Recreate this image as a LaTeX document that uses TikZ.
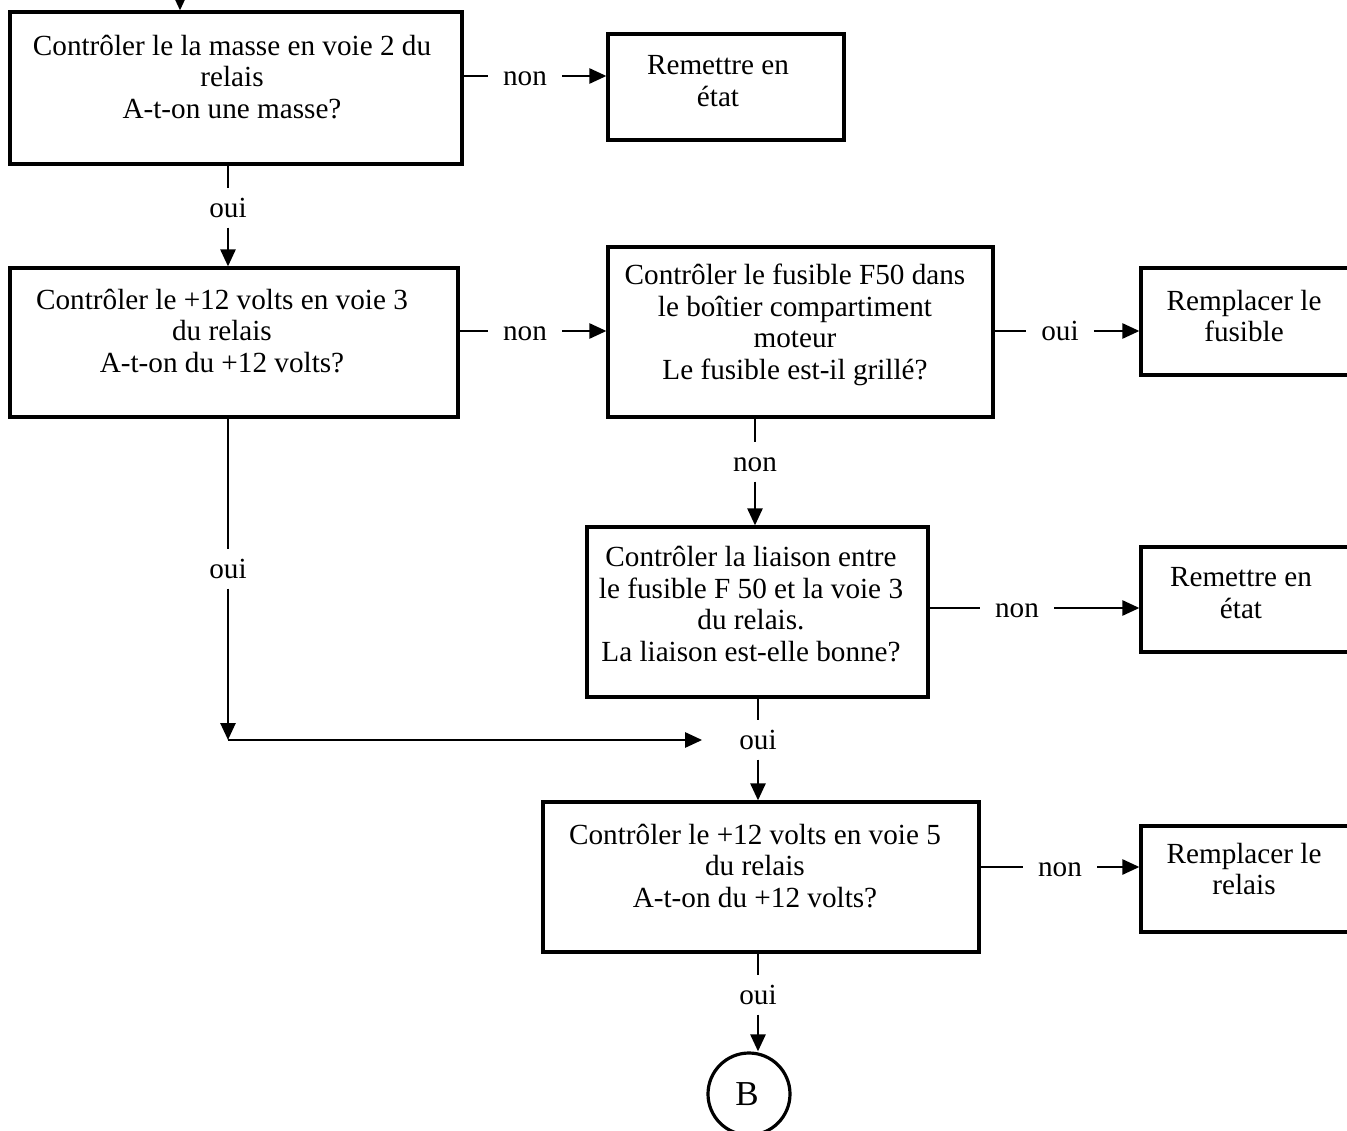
\documentclass[tikz,border=0pt]{standalone}
\usepackage{fontspec}
\setmainfont{Liberation Serif}
\usetikzlibrary{arrows.meta,calc}
\begin{document}
\begin{tikzpicture}[x=1pt,y=-1pt,
  every node/.style={font=\fontsize{29.2}{31.5}\selectfont},
  box/.style={draw,line width=3.2pt,rectangle,inner sep=0pt},
  txt/.style={align=center,inner sep=0pt},
  lbl/.style={inner xsep=15pt,inner ysep=5pt,text height=24pt,text depth=5pt},
  con/.style={line width=2.6pt},
  arr/.style={line width=2.6pt,-{Triangle[length=17pt,width=15pt]}}]
\useasboundingbox (0,0) rectangle (1347,1131);
\clip (0,0) rectangle (1347,1131);
% boxes
\node[box,minimum width=452pt,minimum height=152pt] (b1) at (236,88) {};
\node[box,minimum width=236pt,minimum height=106pt] (r1) at (726,87) {};
\node[box,minimum width=448pt,minimum height=149pt] (b2) at (234,342.5) {};
\node[box,minimum width=385pt,minimum height=170pt] (b3) at (800.5,332) {};
\node[box,minimum width=208pt,minimum height=107pt] (r2) at (1245,321.5) {};
\node[box,minimum width=341pt,minimum height=170pt] (b4) at (757.5,612) {};
\node[box,minimum width=208pt,minimum height=105pt] (r3) at (1245,599.5) {};
\node[box,minimum width=436pt,minimum height=150pt] (b5) at (761,877) {};
\node[box,minimum width=208pt,minimum height=106pt] (r4) at (1245,879) {};
\node[draw,line width=3.2pt,circle,minimum size=82pt,inner sep=0pt] (B) at (749,1094) {};
% texts
\node[txt] (t1) at (232,77) {Contrôler le la masse en voie 2 du\\relais\\A-t-on une masse?};
\node[txt] (tr1) at (718,81) {Remettre en\\état};
\node[txt] (t2) at (222,331) {Contrôler le +12 volts en voie 3\\du relais\\A-t-on du +12 volts?};
\node[txt] (t3) at (795,325) {Contrôler le fusible F50 dans\\le boîtier compartiment\\moteur\\Le fusible est-il grillé?};
\node[txt] (tr2) at (1244,316) {Remplacer le\\fusible};
\node[txt] (t4) at (751,604) {Contrôler la liaison entre\\le fusible F 50 et la voie 3\\du relais.\\La liaison est-elle bonne?};
\node[txt] (tr3) at (1241,593) {Remettre en\\état};
\node[txt] (t5) at (755,866) {Contrôler le +12 volts en voie 5\\du relais\\A-t-on du +12 volts?};
\node[txt] (tr4) at (1244,869) {Remplacer le\\relais};
\node[txt,font=\fontsize{35}{40}\selectfont] (tB) at (747,1094) {B};
% labels
\node[lbl] (n1) at (525,76) {non};
\node[lbl] (n2) at (525,331) {non};
\node[lbl] (o3) at (1060,331) {oui};
\node[lbl] (n4) at (1017,608) {non};
\node[lbl] (n5) at (1060,867) {non};
\node[lbl] (o1) at (228,208) {oui};
\node[lbl] (o2) at (228,569) {oui};
\node[lbl] (n3) at (755,462) {non};
\node[lbl] (o4) at (758,740) {oui};
\node[lbl] (o5) at (758,995) {oui};
\coordinate (top) at (180,-10);
\coordinate (J) at (228,740);
% connectors
\draw[arr] (top) -- (b1.north -| top);
\draw[con] (b1.east |- n1) -- (n1.west);
\draw[arr] (n1.east) -- (r1.west |- n1);
\draw[con] (b1.south -| o1) -- (o1.north);
\draw[arr] (o1.south) -- (b2.north -| o1);
\draw[con] (b2.east |- n2) -- (n2.west);
\draw[arr] (n2.east) -- (b3.west |- n2);
\draw[con] (b3.east |- o3) -- (o3.west);
\draw[arr] (o3.east) -- (r2.west |- o3);
\draw[con] (b3.south -| n3) -- (n3.north);
\draw[arr] (n3.south) -- (b4.north -| n3);
\draw[con] (b4.east |- n4) -- (n4.west);
\draw[arr] (n4.east) -- (r3.west |- n4);
\draw[con] (b2.south -| o2) -- (o2.north);
\draw[arr] (o2.south) -- (J);
\draw[arr,shorten >=22pt] (J) -- (o4.west);
\draw[con] (b4.south -| o4) -- (o4.north);
\draw[arr] (o4.south) -- (b5.north -| o4);
\draw[con] (b5.east |- n5) -- (n5.west);
\draw[arr] (n5.east) -- (r4.west |- n5);
\draw[con] (b5.south -| o5) -- (o5.north);
\draw[arr] (o5.south) -- (o5.south |- B.north);
\end{tikzpicture}
\end{document}
